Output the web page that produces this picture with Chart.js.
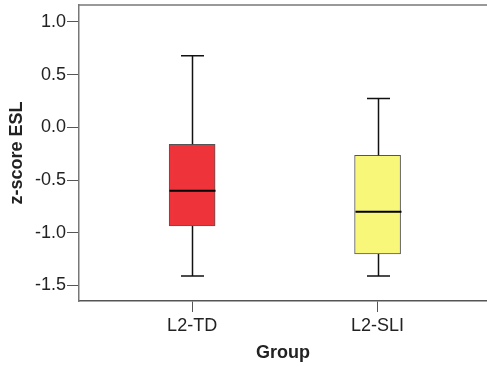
<!DOCTYPE html>
<html>
<head>
<meta charset="utf-8">
<script src="https://cdn.jsdelivr.net/npm/chart.js@4/dist/chart.umd.min.js"></script>
<style>
  html, body { margin: 0; padding: 0; background: #fff; }
  #wrap { width: 487px; height: 367px; }
</style>
</head>
<body>
<div id="wrap"><canvas id="boxChart"></canvas></div>
<script>
// data
const groups = ["L2-TD", "L2-SLI"];
const groupPos = [1, 2];
const whiskerLow = [-1.41, -1.41];
const q1 = [-0.935, -1.20];
const median = [-0.60, -0.80];
const q3 = [-0.16, -0.265];
const whiskerHigh = [0.68, 0.275];
const yTicks = [-1.5, -1.0, -0.5, 0.0, 0.5, 1.0];

const boxColors = ["#ee333b", "#f9f77a"];

// whiskers, median and top frame line, drawn through the scales
const boxPlotExtras = {
  id: "boxPlotExtras",
  afterDatasetsDraw(chart) {
    const { ctx, scales: { x, y }, chartArea } = chart;
    const capHalf = 11.5;
    const boxHalf = 23;
    ctx.save();
    groupPos.forEach((g, i) => {
      const cx = Math.round(x.getPixelForValue(g)) + 0.5;
      ctx.strokeStyle = "#111";
      ctx.lineWidth = 1.5;
      ctx.beginPath();
      ctx.moveTo(cx, y.getPixelForValue(q3[i]));
      ctx.lineTo(cx, y.getPixelForValue(whiskerHigh[i]));
      ctx.moveTo(cx - capHalf, y.getPixelForValue(whiskerHigh[i]));
      ctx.lineTo(cx + capHalf, y.getPixelForValue(whiskerHigh[i]));
      ctx.moveTo(cx, y.getPixelForValue(q1[i]));
      ctx.lineTo(cx, y.getPixelForValue(whiskerLow[i]));
      ctx.moveTo(cx - capHalf, y.getPixelForValue(whiskerLow[i]));
      ctx.lineTo(cx + capHalf, y.getPixelForValue(whiskerLow[i]));
      ctx.stroke();
      ctx.lineWidth = 2;
      ctx.strokeStyle = "#000";
      ctx.beginPath();
      ctx.moveTo(cx - boxHalf, y.getPixelForValue(median[i]));
      ctx.lineTo(cx + boxHalf, y.getPixelForValue(median[i]));
      ctx.stroke();
    });
    ctx.strokeStyle = "#777";
    ctx.lineWidth = 1.5;
    ctx.beginPath();
    ctx.moveTo(chartArea.left, chartArea.top);
    ctx.lineTo(chartArea.right, chartArea.top);
    ctx.stroke();
    ctx.restore();
  }
};

const ctx = document.getElementById("boxChart").getContext("2d");

new Chart(ctx, {
  type: "bar",
  data: {
    datasets: [
      {
        data: groupPos.map((g, i) => ({ x: g, y: [q1[i], q3[i]] })),
        backgroundColor: boxColors,
        borderColor: "#555",
        borderWidth: 1,
        borderSkipped: false,
        barThickness: 46
      }
    ]
  },
  options: {
    responsive: true,
    maintainAspectRatio: false,
    animation: false,
    layout: { padding: { left: 6, top: 5, right: 0, bottom: 0 } },
    plugins: {
      legend: { display: false },
      tooltip: { enabled: false }
    },
    scales: {
      x: {
        type: "linear",
        min: 0.39,
        max: 2.59,
        offset: false,
        afterBuildTicks: (scale) => {
          scale.ticks = groupPos.map((v) => ({ value: v }));
        },
        afterFit: (scale) => {
          scale.height = 66;
          scale.paddingLeft = 0;
          scale.paddingRight = 0;
        },
        ticks: {
          callback: (v) => groups[groupPos.indexOf(v)] || "",
          color: "#222",
          font: { family: "Liberation Sans, Arial", size: 18 },
          padding: 3,
          maxRotation: 0,
          autoSkip: false
        },
        grid: { offset: false, drawOnChartArea: false, drawTicks: true, tickLength: 11, color: "#555" },
        border: { color: "#555", width: 1.5 },
        title: {
          display: true,
          text: "Group",
          color: "#222",
          font: { family: "Liberation Sans, Arial", size: 18, weight: "bold" },
          padding: { top: 4, bottom: 3 }
        }
      },
      y: {
        min: -1.647,
        max: 1.161,
        afterBuildTicks: (scale) => {
          scale.ticks = yTicks.map((v) => ({ value: v }));
        },
        afterFit: (scale) => {
          scale.width = 73;
          scale.paddingTop = 0;
          scale.paddingBottom = 0;
        },
        ticks: {
          callback: (v) => v.toFixed(1),
          color: "#222",
          font: { family: "Liberation Sans, Arial", size: 18 },
          padding: 1
        },
        grid: { drawOnChartArea: false, drawTicks: true, tickLength: 12, color: "#555" },
        border: { color: "#777", width: 1.5 },
        title: {
          display: true,
          text: "z-score ESL",
          color: "#222",
          font: { family: "Liberation Sans, Arial", size: 18, weight: "bold" },
          padding: 0
        }
      }
    }
  },
  plugins: [boxPlotExtras]
});
</script>
</body>
</html>
